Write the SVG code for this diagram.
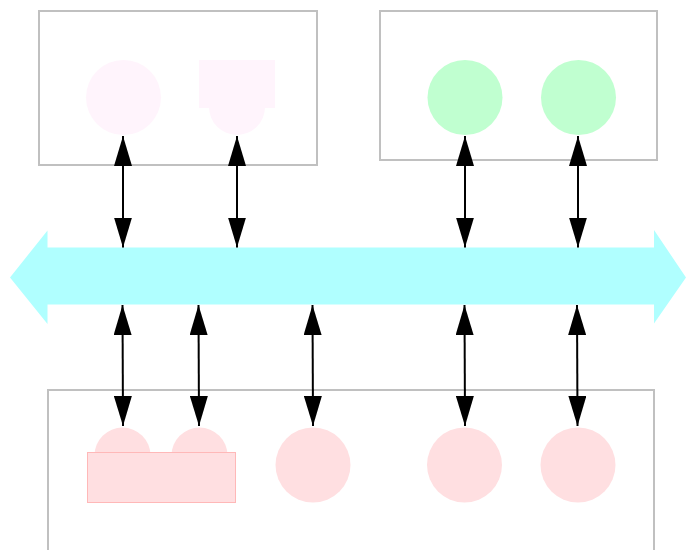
<svg xmlns="http://www.w3.org/2000/svg" width="686" height="550" viewBox="0 0 686 550">
<style>
.cl{fill:none;stroke:#c0c0c0;stroke-width:2}
.pk{fill:#fff4fc;stroke:none}
.gr{fill:#c0ffd0;stroke:none}
.rd{fill:#ffdfe1;stroke:none}
.cn{stroke:#000;stroke-width:2;fill:none;marker-start:url(#ah);marker-end:url(#ah)}
</style>
<defs>
<marker id="ah" viewBox="0 0 30 18" refX="30" refY="9" markerWidth="30" markerHeight="18" markerUnits="userSpaceOnUse" orient="auto-start-reverse">
<path d="M0,0 L30,9 L0,18 Z" fill="#000"/>
</marker>
</defs>
<rect width="686" height="550" fill="#fff"/>
<g id="bus">
<polygon points="10,277.5 47.5,230.5 47.5,247.5 654,247.5 654,230 686,277.5 654,323.5 654,304.5 47.5,304.5 47.5,324" fill="#b0ffff"/>
</g>
<g id="cluster-top-left">
<rect class="cl" x="39" y="11" width="278" height="154"/>
<g id="node-tl1"><circle class="pk" cx="123.5" cy="97.5" r="37.5"/></g>
<g id="node-tl2"><circle class="pk" cx="237" cy="107" r="28"/><rect class="pk" x="199" y="60" width="76" height="48"/></g>
</g>
<g id="cluster-top-right">
<rect class="cl" x="380" y="11" width="277" height="149"/>
<g id="node-tr1"><circle class="gr" cx="465" cy="97.5" r="37.5"/></g>
<g id="node-tr2"><circle class="gr" cx="578.5" cy="97.5" r="37.5"/></g>
</g>
<g id="cluster-bottom">
<path class="cl" d="M48,551 V390 H654 V551"/>
<g id="node-b1"><circle class="rd" cx="122.5" cy="455.5" r="28"/><circle class="rd" cx="199.5" cy="455.5" r="28"/><rect x="87.5" y="452.5" width="148" height="50" fill="#ffdfe1" stroke="#ffb8b8" stroke-width="1"/></g>
<g id="node-b3"><circle class="rd" cx="313" cy="465" r="37.5"/></g>
<g id="node-b4"><circle class="rd" cx="464.5" cy="465" r="37.5"/></g>
<g id="node-b5"><circle class="rd" cx="578" cy="465" r="37.5"/></g>
</g>
<g id="connectors">
<line class="cn" x1="123" y1="136" x2="123" y2="247.5"/>
<line class="cn" x1="237" y1="136" x2="237" y2="247.5"/>
<line class="cn" x1="465" y1="136" x2="465" y2="247.5"/>
<line class="cn" x1="578" y1="136" x2="578" y2="247.5"/>
<line class="cn" x1="122.5" y1="305" x2="123" y2="426"/>
<line class="cn" x1="198.5" y1="305" x2="199" y2="426"/>
<line class="cn" x1="312.5" y1="305" x2="313" y2="426"/>
<line class="cn" x1="464.5" y1="305" x2="465" y2="426"/>
<line class="cn" x1="577" y1="305" x2="577.5" y2="426"/>
</g>
</svg>
